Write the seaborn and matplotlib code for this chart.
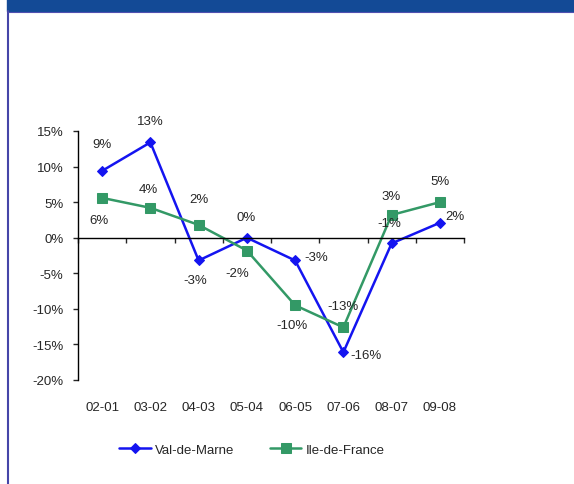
import numpy as np
import pandas as pd
import matplotlib
matplotlib.use("Agg")
import matplotlib.pyplot as plt
import matplotlib.transforms as mtransforms
from matplotlib.patches import Rectangle
from matplotlib.lines import Line2D
import seaborn as sns

# data
periods = ["02-01", "03-02", "04-03", "05-04", "06-05", "07-06", "08-07", "09-08"]
val_de_marne = [9.4, 13.4, -3.2, 0.0, -3.2, -16.1, -0.8, 2.1]
ile_de_france = [5.6, 4.2, 1.8, -1.8, -9.5, -12.6, 3.2, 5.0]

# label offsets in pixels (dx, dy)
vdm_offsets = [(0, 27), (0, 21), (-3, -20), (-1, 21), (21, 3), (23, -3), (-2, 20), (15, 7)]
idf_offsets = [(-3, -22), (-2, 19), (0, 26), (-10, -22), (-3, -20), (0, 21), (-1, 19), (0, 21)]

blue = "#1414F0"
green = "#339966"

sns.set_style("white")
plt.rcParams['font.family'] = ['Liberation Sans', 'DejaVu Sans']

fig = plt.figure(figsize=(5.74, 4.85), dpi=100)
ax = fig.add_axes([78 / 574, 1 - 381 / 485, 386 / 574, 249 / 485])

x = np.arange(len(periods))
df = pd.DataFrame({"x": x, "vdm": val_de_marne, "idf": ile_de_france})

sns.lineplot(data=df, x="x", y="vdm", ax=ax, color=blue, lw=1.8, marker="D",
             markersize=5.5, markeredgecolor=blue, label="Val-de-Marne")
sns.lineplot(data=df, x="x", y="idf", ax=ax, color=green, lw=1.8, marker="s",
             markersize=7, markeredgecolor=green, label="Ile-de-France")

# data labels
for i in range(len(periods)):
    dx, dy = vdm_offsets[i]
    ax.annotate(f"{round(val_de_marne[i]):.0f}%", (x[i], val_de_marne[i]),
                xytext=(dx * 0.72, dy * 0.72), textcoords="offset points",
                ha="center", va="center", fontsize=9.5)
    dx, dy = idf_offsets[i]
    ax.annotate(f"{round(ile_de_france[i]):.0f}%", (x[i], ile_de_france[i]),
                xytext=(dx * 0.72, dy * 0.72), textcoords="offset points",
                ha="center", va="center", fontsize=9.5)

ax.set_xlim(-0.5, 7.5)
ax.set_ylim(-20, 15)
ax.set_yticks(np.arange(-20, 16, 5))
ax.set_yticklabels([f"{v}%" for v in range(-20, 16, 5)], fontsize=9.5)
ax.tick_params(axis="y", direction="out", length=3.6, width=1, pad=7, left=True)

# x axis drawn at zero, with ticks between categories
ax.spines["bottom"].set_position(("data", 0))
ax.spines["top"].set_visible(False)
ax.spines["right"].set_visible(False)
for s in ["left", "bottom"]:
    ax.spines[s].set_color("black")
    ax.spines[s].set_linewidth(1)
ax.set_xticks(np.arange(-0.5, 8, 1))
ax.set_xticklabels([])
ax.tick_params(axis="x", direction="out", length=3.6, width=1, bottom=True)

# category labels along the bottom
trans = mtransforms.blended_transform_factory(ax.transData, ax.transAxes)
for i, p in enumerate(periods):
    ax.text(x[i], -27 / 249, p, transform=trans, ha="center", va="center", fontsize=9.5)

ax.set_xlabel("")
ax.set_ylabel("")
ax.legend(loc="center", bbox_to_anchor=(0.45, -0.28), ncol=2, frameon=False,
          fontsize=9.5, handlelength=2.4, columnspacing=2.7, handletextpad=0.3)

# frame decoration: header band and left border
fig.patches.append(Rectangle((7 / 574, 1 - 12 / 485), 1, 12 / 485, transform=fig.transFigure,
                             color="#134A96", zorder=0))
fig.lines.append(Line2D([8 / 574, 8 / 574], [0, 1 - 12 / 485], transform=fig.transFigure,
                        color="#4545A8", lw=1.5))
fig.lines.append(Line2D([8 / 574, 1], [1 - 12.5 / 485, 1 - 12.5 / 485], transform=fig.transFigure,
                        color="#5050B0", lw=0.8))

fig.savefig("out.png", dpi=100)
